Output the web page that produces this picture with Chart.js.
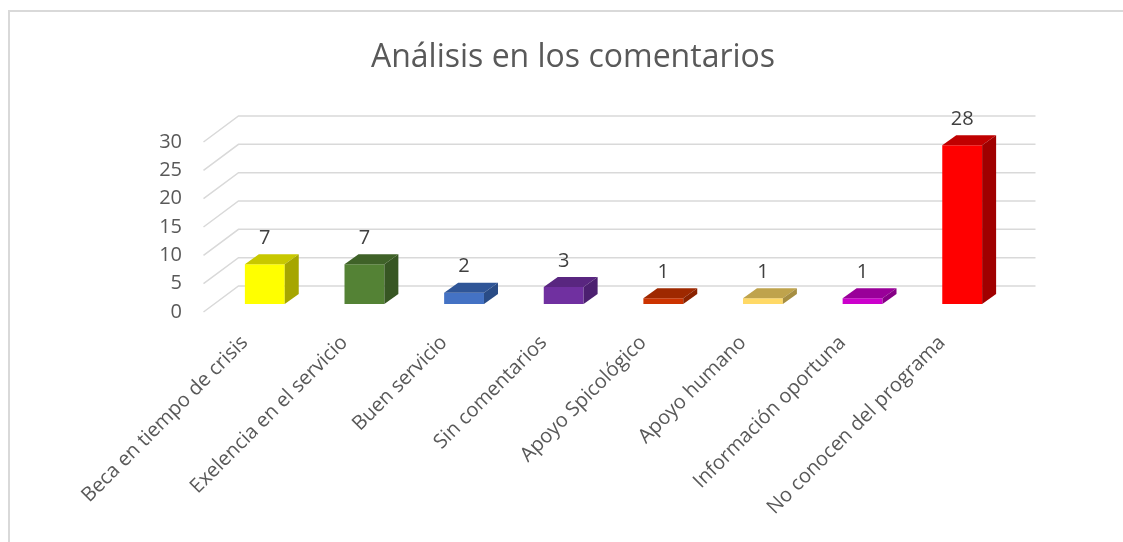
<!DOCTYPE html>
<html>
<head>
<meta charset="utf-8">
<script src="https://cdn.jsdelivr.net/npm/chart.js@4/dist/chart.umd.min.js"></script>
<style>
  html, body { margin: 0; padding: 0; background: #fff; overflow: hidden; }
  #frame { position: absolute; left: 8px; top: 10px; width: 1200px; height: 600px; border: 2px solid #d9d9d9; }
  #wrap { position: absolute; left: 0; top: 0; width: 1123px; height: 542px; }
</style>
</head>
<body>
<div id="frame"></div>
<div id="wrap"><canvas id="barChart" width="1123" height="542"></canvas></div>
<script>
const categories = [
  'Beca en tiempo de crisis', 'Exelencia en el servicio', 'Buen servicio', 'Sin comentarios',
  'Apoyo Spicológico', 'Apoyo humano', 'Información oportuna', 'No conocen del programa',
];
const values = [7, 7, 2, 3, 1, 1, 1, 28];
const yMax = 30;
const yStep = 5;

// front / top / side face colours for the 3d look
const frontColors = ['#ffff00', '#548235', '#4472c4', '#7030a0', '#cc3300', '#ffd966', '#cc00cc', '#ff0000'];
const topColors = ['#c8c800', '#3f6228', '#2f5597', '#592680', '#9e2800', '#bfa34c', '#990099', '#c00000'];
const sideColors = ['#a6a600', '#375623', '#2a4c86', '#4c2070', '#8a2200', '#a68e42', '#860086', '#a00000'];

const FONT = '"Open Sans", Lato, sans-serif';
const FRONT = [-11.5, 8];   // floor front edge offset
const BACK = [23.5, -18];   // back wall offset
const DEPTH = [14, -10];    // bar depth

const walls = {
  id: 'walls',
  beforeDatasetsDraw(chart) {
    const { ctx, chartArea, scales: { y } } = chart;
    ctx.save();
    ctx.strokeStyle = '#d9d9d9';
    ctx.lineWidth = 1.5;
    y.ticks.forEach((t) => {
      const py = y.getPixelForValue(t.value);
      ctx.beginPath();
      ctx.moveTo(chartArea.left + FRONT[0], py + FRONT[1]);
      ctx.lineTo(chartArea.left + BACK[0], py + BACK[1]);
      ctx.lineTo(chartArea.right + BACK[0], py + BACK[1]);
      ctx.stroke();
    });
    ctx.restore();
  },
};

const bars3d = {
  id: 'bars3d',
  afterDatasetsDraw(chart) {
    const { ctx } = chart;
    const data = chart.data.datasets[0].data;
    ctx.save();
    chart.getDatasetMeta(0).data.forEach((bar, i) => {
      const { x, y, base, width } = bar.getProps(['x', 'y', 'base', 'width'], true);
      const l = x - width / 2;
      const r = x + width / 2;
      // top
      ctx.fillStyle = topColors[i];
      ctx.beginPath();
      ctx.moveTo(l, y);
      ctx.lineTo(r, y);
      ctx.lineTo(r + DEPTH[0], y + DEPTH[1]);
      ctx.lineTo(l + DEPTH[0], y + DEPTH[1]);
      ctx.closePath();
      ctx.fill();
      // side
      ctx.fillStyle = sideColors[i];
      ctx.beginPath();
      ctx.moveTo(r, y);
      ctx.lineTo(r + DEPTH[0], y + DEPTH[1]);
      ctx.lineTo(r + DEPTH[0], base + DEPTH[1]);
      ctx.lineTo(r, base);
      ctx.closePath();
      ctx.fill();
      // value label
      ctx.fillStyle = '#404040';
      ctx.font = '20px ' + FONT;
      ctx.textAlign = 'center';
      ctx.textBaseline = 'middle';
      ctx.fillText(String(data[i]), x, y - 26);
    });
    ctx.restore();
  },
};

const ctx = document.getElementById('barChart').getContext('2d');
new Chart(ctx, {
  type: 'bar',
  data: {
    labels: categories,
    datasets: [{
      data: values,
      backgroundColor: frontColors,
      borderWidth: 0,
      categoryPercentage: 1,
      barPercentage: 0.4,
    }],
  },
  options: {
    responsive: false,
    animation: false,
    layout: { padding: { left: 23, right: 0, top: 0, bottom: 0 } },
    plugins: {
      legend: { display: false },
      tooltip: { enabled: false },
      title: {
        display: true,
        text: 'Análisis en los comentarios',
        color: '#595959',
        font: { family: FONT, size: 32, weight: 'normal' },
        padding: { top: 39, bottom: 56.6 },
      },
    },
    scales: {
      x: {
        grid: { display: false, drawTicks: false },
        border: { display: false },
        ticks: {
          color: '#595959',
          font: { family: FONT, size: 20 },
          minRotation: 45,
          maxRotation: 45,
          autoSkip: false,
          labelOffset: -20,
          padding: 27,
        },
        afterFit: (scale) => { scale.height = 238; },
      },
      y: {
        min: 0,
        max: yMax,
        grid: { display: false, drawTicks: false },
        border: { display: false },
        ticks: {
          stepSize: yStep,
          color: '#595959',
          font: { family: FONT, size: 20 },
          padding: 33,
          labelOffset: 8,
        },
        afterFit: (scale) => { scale.width = 192; },
      },
      y2: {
        position: 'right',
        grid: { display: false, drawTicks: false },
        border: { display: false },
        ticks: { display: false },
        afterFit: (scale) => { scale.width = 111; },
      },
    },
  },
  plugins: [walls, bars3d],
});
</script>
</body>
</html>
